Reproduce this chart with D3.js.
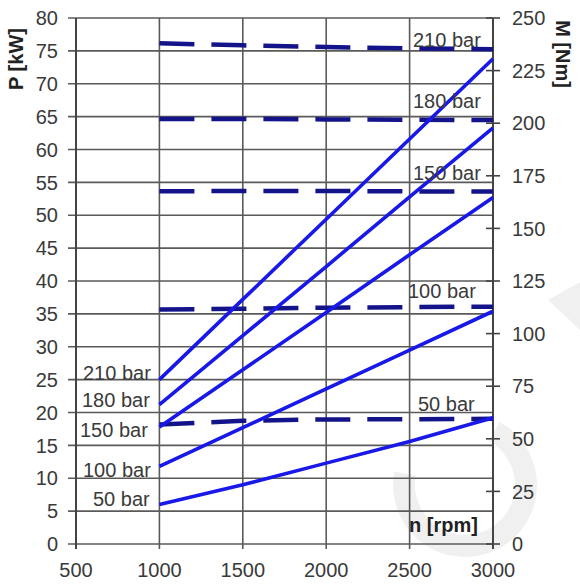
<!DOCTYPE html>
<html><head><meta charset="utf-8">
<script src="https://cdn.jsdelivr.net/npm/d3@7"></script>
<style>body{margin:0;background:#fff}svg{display:block}text{font-family:"Liberation Sans",Arial,sans-serif}</style>
</head><body><svg id="c" width="580" height="585"></svg>
<script>
// ---- data ----
const rpm = [1000, 1500, 2000, 2500, 3000];
const pressures = ["210 bar", "180 bar", "150 bar", "100 bar", "50 bar"];
// Power P [kW] (solid lines, left axis)
const power210 = [25.0, 37.2, 49.4, 61.6, 73.8];
const power180 = [21.2, 31.7, 42.2, 52.8, 63.3];
const power150 = [17.8, 26.5, 35.2, 44.0, 52.7];
const power100 = [11.8, 17.7, 23.6, 29.5, 35.4];
const power50  = [6.0, 9.0, 12.3, 15.6, 19.2];
// Torque M [Nm] (dashed lines, right axis)
const torque210 = [238.0, 237.0, 236.2, 235.6, 235.2];
const torque180 = [202.0, 202.0, 201.8, 201.6, 201.5];
const torque150 = [167.6, 167.8, 167.8, 167.6, 167.5];
const torque100 = [111.5, 111.8, 112.3, 112.6, 112.8];
const torque50  = [56.8, 58.6, 59.2, 59.3, 59.5];
const xTicks = [500, 1000, 1500, 2000, 2500, 3000];
const pTicks = d3.range(0, 81, 5);
const mTicks = d3.range(0, 251, 25);

const powerSeries = [power210, power180, power150, power100, power50];
const torqueSeries = [torque210, torque180, torque150, torque100, torque50];

// ---- layout ----
const svg = d3.select("#c");
const L = 76, R = 493, T = 18, B = 544;
const x = d3.scaleLinear().domain([500, 3000]).range([L, R]);
const yP = d3.scaleLinear().domain([0, 80]).range([B, T]);
const yM = d3.scaleLinear().domain([0, 250]).range([B, T]);
const gridCol = "#5a5a5a", textCol = "#3a3a3a";

// faint watermark (ring + wedge)
svg.append("path")
  .attr("d", d3.arc()({innerRadius: 50, outerRadius: 72, startAngle: 0.5, endAngle: 4.9}))
  .attr("transform", "translate(465,485)")
  .attr("fill", "#000").attr("opacity", 0.06);
svg.append("path")
  .attr("d", "M548,300 L580,282 L580,330 Z")
  .attr("fill", "#000").attr("opacity", 0.06);

// horizontal grid
svg.append("g").selectAll("line").data(pTicks).join("line")
  .attr("x1", L - 8).attr("x2", R).attr("y1", d => yP(d)).attr("y2", d => yP(d))
  .attr("stroke", gridCol).attr("stroke-width", 1.6);
// vertical grid
svg.append("g").selectAll("line").data(xTicks).join("line")
  .attr("x1", d => x(d)).attr("x2", d => x(d)).attr("y1", T).attr("y2", B + 5)
  .attr("stroke", d => (d === 500 || d === 3000) ? "#444" : gridCol)
  .attr("stroke-width", d => (d === 500 || d === 3000) ? 2 : 1.6);
// right axis ticks
svg.append("g").selectAll("line").data(mTicks).join("line")
  .attr("x1", R - 7).attr("x2", R + 7).attr("y1", d => yM(d)).attr("y2", d => yM(d))
  .attr("stroke", "#444").attr("stroke-width", 1.6);

// tick labels
svg.append("g").selectAll("text").data(pTicks).join("text")
  .attr("x", 58).attr("y", d => yP(d)).attr("dy", "0.36em")
  .attr("text-anchor", "end").attr("font-size", 20).attr("fill", textCol).text(d => d);
svg.append("g").selectAll("text").data(xTicks).join("text")
  .attr("x", d => x(d)).attr("y", 577)
  .attr("text-anchor", "middle").attr("font-size", 20).attr("fill", textCol).text(d => d);
svg.append("g").selectAll("text").data(mTicks).join("text")
  .attr("x", 512).attr("y", d => yM(d)).attr("dy", "0.36em")
  .attr("font-size", 20).attr("fill", textCol).text(d => d);

// lines
const pLine = d3.line().x((d, i) => x(rpm[i])).y(d => yP(d));
const mLine = d3.line().x((d, i) => x(rpm[i])).y(d => yM(d));
svg.append("g").selectAll("path").data(torqueSeries).join("path")
  .attr("d", mLine).attr("fill", "none").attr("stroke", "#14148a")
  .attr("stroke-width", 4.5).attr("stroke-dasharray", "35,17");
svg.append("g").selectAll("path").data(powerSeries).join("path")
  .attr("d", pLine).attr("fill", "none").attr("stroke", "#1818e8")
  .attr("stroke-width", 3.6);

// series labels (left: power, right: torque)
const leftLabelPos = [[83, 380], [82, 407], [80, 437], [83, 477], [93, 506]];
const rightLabelPos = [[413, 47], [413, 108], [413, 180], [408, 298], [418, 411]];
svg.append("g").selectAll("text").data(pressures).join("text")
  .attr("x", (d, i) => leftLabelPos[i][0]).attr("y", (d, i) => leftLabelPos[i][1])
  .attr("font-size", 20).attr("fill", textCol).text(d => d);
svg.append("g").selectAll("text").data(pressures).join("text")
  .attr("x", (d, i) => rightLabelPos[i][0]).attr("y", (d, i) => rightLabelPos[i][1])
  .attr("font-size", 20).attr("fill", textCol).text(d => d);

// axis titles
svg.append("text").attr("transform", "translate(23,59) rotate(-90)")
  .attr("text-anchor", "middle").attr("font-size", 20).attr("font-weight", "bold")
  .attr("fill", "#222").text("P [kW]");
svg.append("text").attr("transform", "translate(556,54) rotate(90)")
  .attr("text-anchor", "middle").attr("font-size", 20).attr("font-weight", "bold")
  .attr("fill", "#222").text("M [Nm]");
svg.append("text").attr("x", 409).attr("y", 532)
  .attr("font-size", 20).attr("font-weight", "bold").attr("fill", "#222").text("n [rpm]");
</script></body></html>
